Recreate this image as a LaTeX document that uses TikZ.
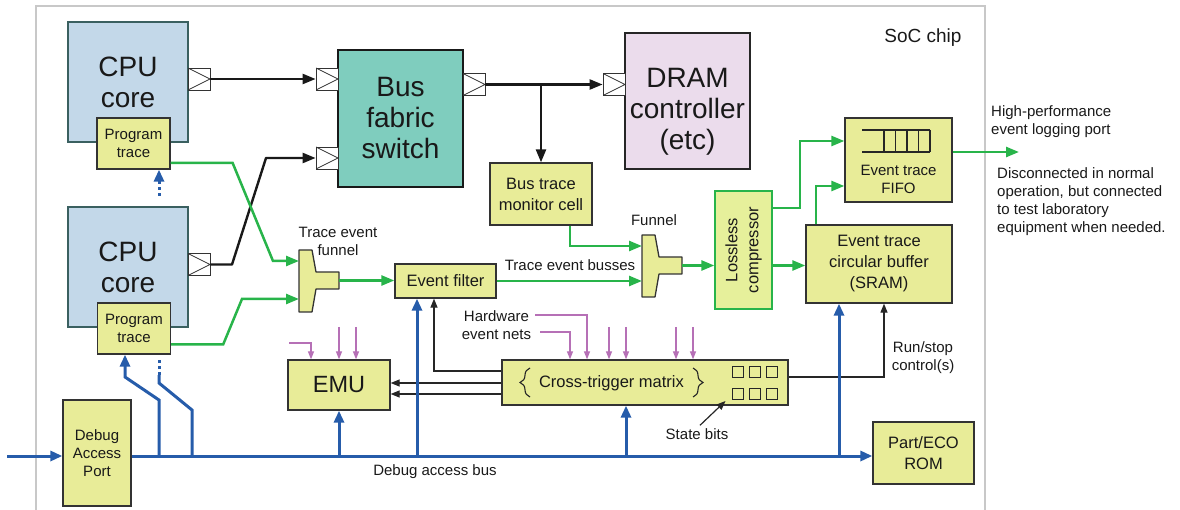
\documentclass[tikz,border=0pt]{standalone}
\usepackage{fontspec}
\setmainfont{Liberation Sans}
\usetikzlibrary{positioning,arrows.meta,calc,decorations.pathreplacing}

\definecolor{trYellow}{RGB}{232,236,152}
\definecolor{compFill}{RGB}{230,240,155}
\definecolor{cpuBlue}{RGB}{195,216,233}
\definecolor{cpuEdge}{RGB}{58,96,96}
\definecolor{fabTeal}{RGB}{127,205,190}
\definecolor{dramPink}{RGB}{235,220,236}
\definecolor{trGreen}{RGB}{40,180,74}
\definecolor{dbgBlue}{RGB}{38,92,170}
\definecolor{evPurple}{RGB}{182,112,182}
\definecolor{chipGray}{RGB}{200,200,200}

\newcommand{\smallfs}{\fontsize{15}{18}\selectfont}
\newcommand{\boxfs}{\fontsize{16.5}{21}\selectfont}
\newcommand{\bigfs}{\fontsize{28}{31}\selectfont}

\begin{document}
\begin{tikzpicture}[
    x=1pt, y=-1pt,
    font=\smallfs, text=black!90,
    wh/.style 2 args={minimum width=#1pt, minimum height=#2pt},
    % blocks
    blk/.style={draw=black!80, line width=1.3pt, align=center, inner sep=0pt},
    ybox/.style={blk, fill=trYellow, font=\boxfs},
    ptbox/.style={ybox, font=\smallfs, wh={73}{51}},
    cpubox/.style={blk, fill=cpuBlue, draw=cpuEdge, line width=2.2pt, font=\bigfs, wh={120}{120}},
    fabbox/.style={blk, fill=fabTeal, draw=black!90, line width=2.4pt, font=\bigfs},
    drambox/.style={blk, fill=dramPink, draw=black!85, line width=2pt},
    compbox/.style={blk, fill=compFill, draw=trGreen, line width=1.3pt},
    % small bus ports (square with a triangle)
    port/.style={draw=black!80, fill=white, line width=0.8pt, minimum size=22pt, inner sep=0pt,
      path picture={\draw[line width=0.8pt] (path picture bounding box.north west)
        -- (path picture bounding box.east) -- (path picture bounding box.south west);}},
    sbit/.style={draw=black!85, line width=1pt, minimum size=11pt, inner sep=0pt},
    lbl/.style={align=center, inner sep=0pt},
    brc/.style={decorate, decoration={brace, amplitude=10pt}, line width=1.1pt, black!85},
    % connectors
    busarr/.style={-{Triangle[length=13pt,width=10pt]}, line width=2.4pt, black!90, line join=round},
    trarr/.style={-{Triangle[length=13pt,width=10pt]}, line width=2.5pt, trGreen},
    dbgline/.style={line width=3pt, dbgBlue},
    dbgarr/.style={dbgline, -{Triangle[length=12pt,width=10pt]}},
    ctlarr/.style={-{Triangle[length=9pt,width=7pt]}, line width=1.2pt, black!85},
    evarr/.style={-{Triangle[length=8pt,width=6pt]}, line width=1.2pt, evPurple},
    % trace funnel
    funnel/.pic={
      \draw[draw=black!80, fill=trYellow, line width=1.3pt, line join=round]
        (0,0) -- (13,0) -- (17,22) -- (40,22) -- (40,39) -- (17,39) -- (13,62) -- (0,62) -- cycle;
      \coordinate (-nw) at (0,0);
      \coordinate (-out) at (40,30.5);
      \coordinate (-in1) at (0,11);
      \coordinate (-in2) at (0,49);
    }
  ]
  \useasboundingbox (0,0) rectangle (1180,510);

  % ===================== SoC chip outline =====================
  \draw[chipGray, line width=1.2pt] (36,515) -- (36,6) -- (985,6) -- (985,515);
  \node[lbl, font=\fontsize{19}{22}\selectfont] (soc) at (923,38) {SoC chip};

  % ===================== CPU cores, bus fabric, DRAM =====================
  \node[cpubox] (cpua) at (128,82) {CPU\\core};
  \node[ptbox] (ptra) at (133.5,143.5) {Program\\trace};
  \node[cpubox] (cpub) at (128,267) {CPU\\core};
  \node[ptbox] (ptrb) at (134,328.5) {Program\\trace};

  \node[fabbox, wh={125}{137}] (bus) at (400.5,118.5) {Bus\\fabric\\switch};
  \node[drambox, wh={125}{136}] (dram) at (687.5,101) {};
  \node[lbl, font=\bigfs] (dramlbl) at ($(dram.center)+(0,11)$) {DRAM\\controller\\(etc)};

  \node[port] (pcpua) at (199,79) {};
  \node[port] (pcpub) at (199,264.5) {};
  \node[port] (pbusa) at (327,79) {};
  \node[port] (pbusb) at (327,158) {};
  \node[port] (pbuso) at (474,84.5) {};
  \node[port] (pdram) at (614,84.5) {};

  \node[ybox, wh={102}{62}] (btm) at (541,194) {Bus trace\\monitor cell};

  \draw[busarr] (pcpua.east) -- (pbusa.west);
  \draw[busarr] (pcpub.east) -- (232,264.5) -- (266,158) -- (pbusb.west);
  \draw[busarr] (pbuso.east) -- (pdram.west);
  \draw[busarr] (btm.north |- pbuso) -- (btm.north);

  % ===================== trace path =====================
  \pic (fa) at (299,250) {funnel};
  \pic (fb) at (642,235) {funnel};
  \node[lbl] (falbl) at (338,241) {Trace event\\funnel};
  \node[lbl] (fblbl) at (654,220) {Funnel};

  \node[ybox, wh={101}{34}] (efilt) at (445.5,281) {Event filter};
  \node[compbox, wh={57}{118}] (comp) at (743.5,250) {};
  \node[lbl, rotate=90, font=\boxfs] (complbl) at (comp.center) {Lossless\\compressor};
  \node[ybox, wh={146}{78}] (cbuf) at (879,264) {Event trace\\circular buffer\\(SRAM)};
  \node[ybox, wh={107}{84}] (fifo) at (898.5,160) {};
  \node[lbl] (fifolbl) at (898.5,179) {Event trace\\FIFO};
  \draw[line width=1.1pt, black!85] (862,130) -- (930,130) (862,152) -- (930,152);
  \foreach \x in {884,895.5,907,918.5,930}
    \draw[line width=1.1pt, black!85] (\x,130) -- (\x,152);

  \node[lbl] (busslbl) at (570,265) {Trace event busses};

  \draw[trarr] ($(ptra.east)+(0,19.5)$) -- ++(62,0) -- (273,261) -- (fa-in1);
  \draw[trarr] ($(ptrb.east)+(0,16)$) -- ++(52,0) -- (242,299) -- (fa-in2);
  \draw[trarr] (fa-out) -- (efilt.west |- fa-out);
  \draw[trarr] (efilt.east) -- (efilt.east -| fb-nw);
  \draw[trarr] ($(btm.south)+(29,0)$) |- (fb-in1);
  \draw[trarr] (fb-out) -- (comp.west |- fb-out);
  \draw[trarr] (comp.east |- fb-out) -- (cbuf.west |- fb-out);
  \draw[trarr] (comp.east |- 0,208) -- (800,208) |- (fifo.west |- 0,141);
  \draw[trarr] (cbuf.north -| 816,0) |- (fifo.west |- 0,186);
  \coordinate (logport) at (1019,152);
  \draw[trarr] (fifo.east |- logport) -- (logport);

  \node[lbl, align=left, anchor=west] (hplbl) at (991,121.5) {High-performance\\event logging port};
  \node[lbl, align=left, anchor=west] (disclbl) at (997,202)
    {Disconnected in normal\\operation, but connected\\to test laboratory\\equipment when needed.};

  % ===================== cross-trigger, EMU =====================
  \node[ybox, wh={102}{50}, font=\fontsize{23.5}{26}\selectfont] (emu) at (339,385) {EMU};
  \node[ybox, wh={286}{45}] (ctm) at (645,382.5) {};
  \node[lbl, font=\boxfs] (ctmlbl) at (611.5,383) {Cross-trigger matrix};
  \draw[brc] (530,397) -- (530,368);
  \draw[brc] (693,368) -- (693,397);
  \foreach \i/\x/\y in {1/737.5/371.5, 2/754.5/371.5, 3/771.5/371.5,
                        4/737.5/394, 5/754.5/394, 6/771.5/394}
    \node[sbit] (sb\i) at (\x,\y) {};
  \node[lbl] (stb) at (697,434) {State bits};
  \draw[ctlarr] ($(stb.north)+(3,-3)$) -- ($(sb4.south west)+(-6,1)$);

  \draw[ctlarr] (ctm.west |- 0,383) -- (emu.east |- 0,383);
  \draw[ctlarr] (ctm.west |- 0,394) -- (emu.east |- 0,394);
  \draw[ctlarr] (ctm.west |- 0,371) -| (efilt.south -| 434,0);
  \draw[ctlarr] (ctm.east |- 0,377) -| (884,0 |- cbuf.south);
  \node[lbl] (rslbl) at (923,358) {Run/stop\\control(s)};

  % hardware event nets
  \node[lbl] (hwlbl) at (496.5,325) {Hardware\\event nets};
  \coordinate (emuev) at (289,343);
  \draw[evarr] (emuev) -| (311,0 |- emu.north);
  \foreach \x in {339,356}
    \draw[evarr] (\x,327) -- (\x,0 |- emu.north);
  \draw[evarr] ($(hwlbl.east)+(4,-10)$) -| (587,0 |- ctm.north);
  \draw[evarr] ($(hwlbl.east)+(9,7)$) -| (570,0 |- ctm.north);
  \foreach \x in {609,626,676,693}
    \draw[evarr] (\x,327) -- (\x,0 |- ctm.north);

  % ===================== debug access bus =====================
  \node[ybox, wh={68}{106}, font=\smallfs] (dap) at (97,453) {Debug\\Access\\Port};
  \node[ybox, wh={101}{62}] (rom) at (923.5,453) {Part/ECO\\ROM};
  \node[lbl] (dbglbl) at (435,472) {Debug access bus};

  \coordinate (dbgin) at (7,456);
  \draw[dbgarr] (dbgin) -- (dap.west |- dbgin);
  \draw[dbgarr] (dap.east |- dbgin) -- (rom.west |- dbgin);
  \draw[dbgarr] (159,0 |- dbgin) -- (159,400) -- (125,377) -- (125,0 |- ptrb.south);
  \draw[dbgline] (192,0 |- dbgin) -- (192,410) -- (159,383) -- (159,375);
  \draw[dbgline, dash pattern=on 3pt off 3pt] (159,375) -- (159,360);
  \draw[dbgarr, dash pattern=on 3pt off 3pt] (159,196) -- (159,0 |- ptra.south);
  \draw[dbgarr] (emu.south |- dbgin) -- (emu.south);
  \draw[dbgarr] (417,0 |- dbgin) -- (417,0 |- efilt.south);
  \draw[dbgarr] (626,0 |- dbgin) -- (626,0 |- ctm.south);
  \draw[dbgarr] (839,0 |- dbgin) -- (839,0 |- cbuf.south);

\end{tikzpicture}
\end{document}
